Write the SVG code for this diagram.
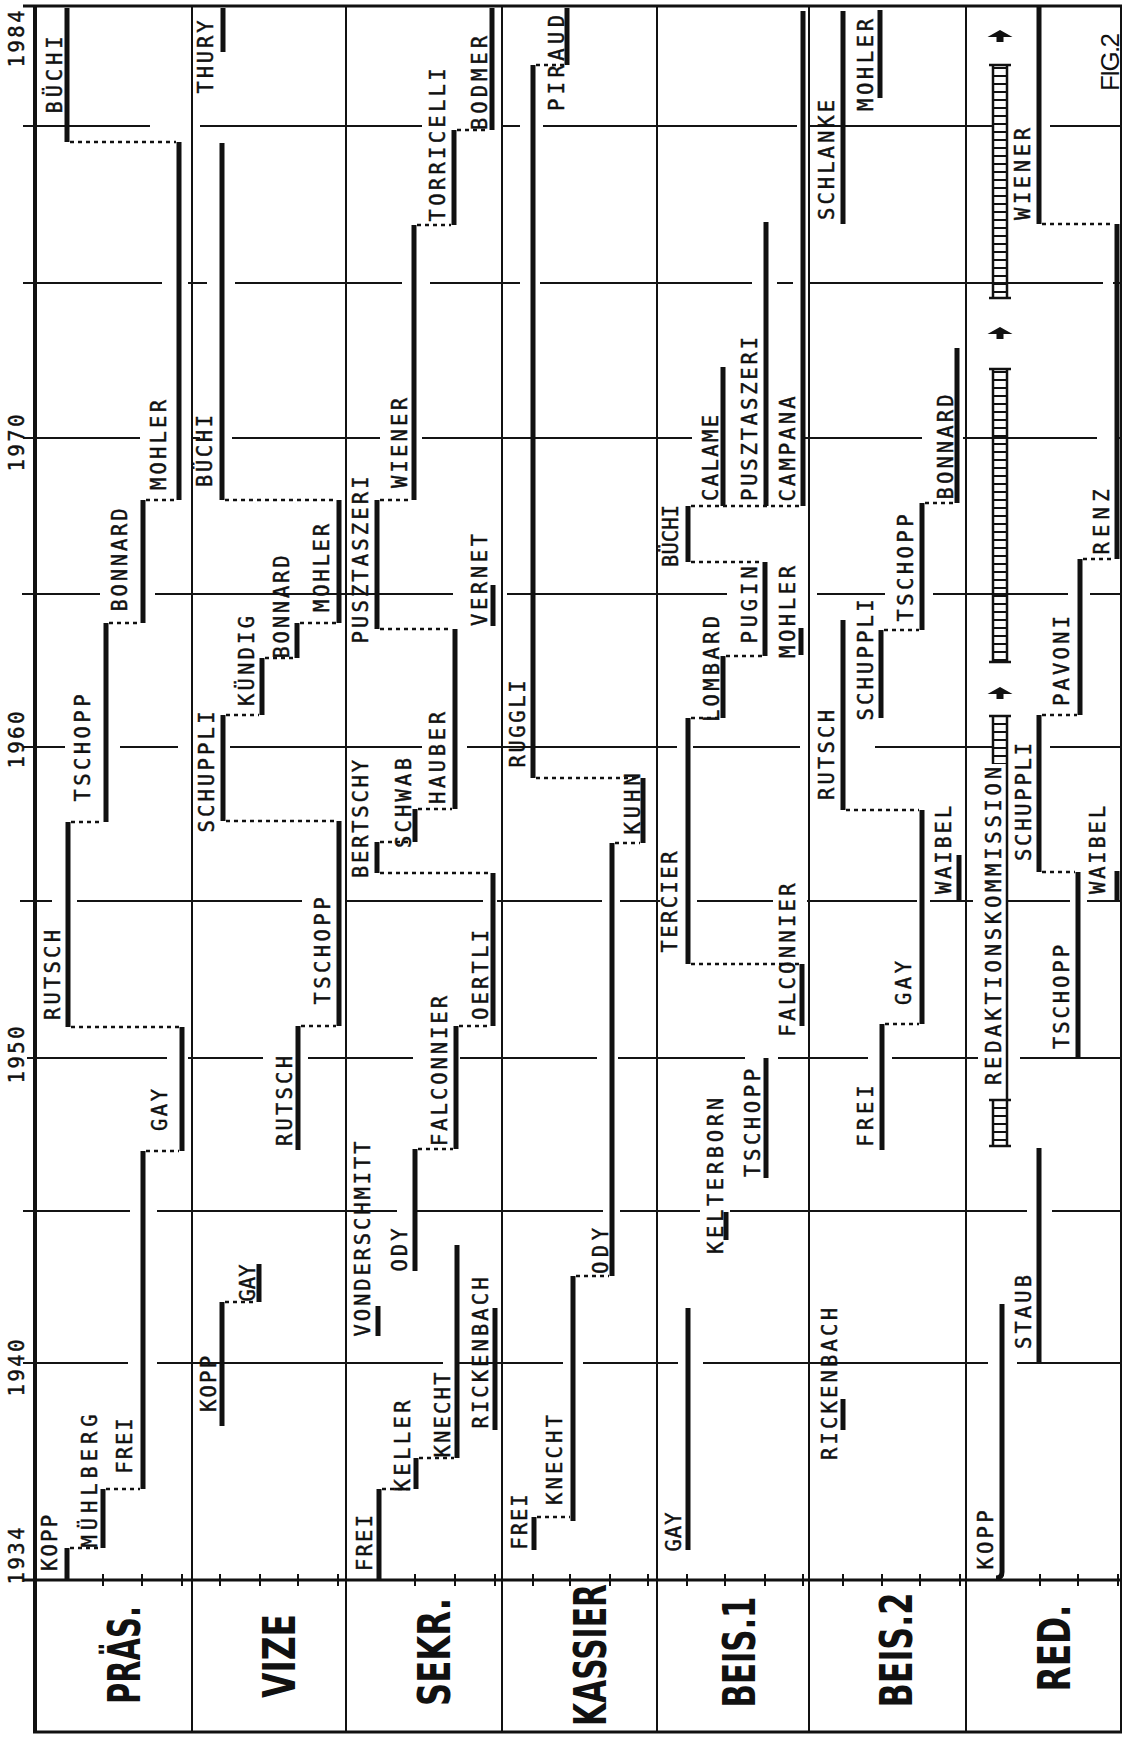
<svg xmlns="http://www.w3.org/2000/svg" width="1124" height="1740" viewBox="0 0 1124 1740">
<defs>
<style>
.g{stroke:#141414;stroke-width:2;fill:none}
.fr{stroke:#111;fill:none}
.b{stroke:#111;stroke-width:5;fill:none}
.d{stroke:#111;stroke-width:2.5;stroke-dasharray:4 4;fill:none}
.n{font-family:"DejaVu Sans Mono","Liberation Mono",monospace;font-size:20.5px;fill:#111;stroke:#111;stroke-width:0.45;text-anchor:middle}
.h{font-family:"DejaVu Sans Condensed","DejaVu Sans","Liberation Sans",sans-serif;font-weight:bold;font-size:44px;fill:#111;text-anchor:middle}
.f{font-family:"Liberation Sans",sans-serif;font-size:26px;fill:#111;text-anchor:middle}
.lad{stroke:#111;stroke-width:2.5;fill:none}
</style>
<pattern id="rungs" patternUnits="userSpaceOnUse" x="0" y="0" width="20" height="8"><rect x="0" y="3" width="20" height="2" fill="#111"/></pattern>
<path id="arr" d="M0 -6L12.5 1H3.5V6H-3.5V1H-12.5Z" fill="#111"/>
</defs>
<rect width="1124" height="1740" fill="#fff"/>

<g id="frame">
<path class="fr" stroke-width="4" d="M35 5V1732"/>
<path class="fr" stroke-width="3" d="M23 6H1122M23 1580H1122M33 1732H1122"/>
<path class="fr" stroke-width="2" d="M192 5V1732M346 5V1732M502 5V1732M657 5V1732M809 5V1732M966 5V1732M1121 5V1732"/>
<path class="g" d="M23 126H150M200 126H422M503 126H520M543 126H797M810 126H993M1050 126H1122
M23 283H162M188 283H207M235 283H402M430 283H520M540 283H752M777 283H793M810 283H1103M1113 283H1122
M23 438H140M192 438H200M232 438H380M422 438H692M803 438H922M963 438H1097M1115 438H1122
M22 594H100M155 594H453M507 594H727M817 594H885M933 594H1068M1090 594H1122
M23 747H65M120 747H178M230 747H422M467 747H677M693 747H800M875 747H993M1050 747H1122
M20 901H52M77 901H302M347 901H483M497 901H602M620 901H660M697 901H773M807 901H917M930 901H973M1007 901H1070M1087 901H1122
M27 1058H167M188 1058H263M308 1058H413M460 1058H597M618 1058H745M778 1058H868M892 1058H978M1020 1058H1122
M23 1211H130M157 1211H397M417 1211H603M620 1211H700M730 1211H1027M1052 1211H1122
M23 1363H128M157 1363H443M457 1363H563M583 1363H678M703 1363H988M1017 1363H1122"/>
<path class="fr" stroke-width="2" d="M103 1574V1586M142 1574V1586M182 1574V1586M220 1574V1586M260 1574V1586M298 1574V1586M338 1574V1586M415 1574V1586M455 1574V1586M495 1574V1586M533 1574V1586M570 1574V1586M610 1574V1586M648 1574V1586M687 1574V1586M725 1574V1586M765 1574V1586M803 1574V1586M843 1574V1586M882 1574V1586M920 1574V1586M960 1574V1586M1040 1574V1586M1078 1574V1586M1118 1574V1586"/>
</g>

<g id="years">
<text class="n" transform="translate(24 39) rotate(-90)" textLength="57">1984</text>
<text class="n" transform="translate(24 443) rotate(-90)" textLength="57">1970</text>
<text class="n" transform="translate(24 740) rotate(-90)" textLength="57">1960</text>
<text class="n" transform="translate(24 1055) rotate(-90)" textLength="57">1950</text>
<text class="n" transform="translate(24 1368) rotate(-90)" textLength="57">1940</text>
<text class="n" transform="translate(24 1556) rotate(-90)" textLength="57">1934</text>
</g>

<g id="headers">
<text class="h" transform="translate(140 1655) rotate(-90)" textLength="98" lengthAdjust="spacingAndGlyphs">PRÄS.</text>
<text class="h" transform="translate(295 1656) rotate(-90)" textLength="84" lengthAdjust="spacingAndGlyphs">VIZE</text>
<text class="h" transform="translate(450 1652) rotate(-90)" textLength="108" lengthAdjust="spacingAndGlyphs">SEKR.</text>
<text class="h" transform="translate(606 1655) rotate(-90)" textLength="142" lengthAdjust="spacingAndGlyphs">KASSIER</text>
<text class="h" transform="translate(755 1652) rotate(-90)" textLength="111" lengthAdjust="spacingAndGlyphs">BEIS.1</text>
<text class="h" transform="translate(912 1650) rotate(-90)" textLength="115" lengthAdjust="spacingAndGlyphs">BEIS.2</text>
<text class="h" transform="translate(1070 1648) rotate(-90)" textLength="87" lengthAdjust="spacingAndGlyphs">RED.</text>
</g>

<g id="connectors">
<path class="d" d="M70 1548H100"/>
<path class="d" d="M106 1489H140"/>
<path class="d" d="M146 1151H179"/>
<path class="d" d="M71 1027H179"/>
<path class="d" d="M71 822H103"/>
<path class="d" d="M109 623H140"/>
<path class="d" d="M146 500H176"/>
<path class="d" d="M70 142H176"/>
<path class="d" d="M225 1302H255"/>
<path class="d" d="M301 1026H336"/>
<path class="d" d="M226 821H336"/>
<path class="d" d="M226 715H259"/>
<path class="d" d="M265 658H294"/>
<path class="d" d="M300 623H336"/>
<path class="d" d="M225 500H336"/>
<path class="d" d="M382 1489H413"/>
<path class="d" d="M419 1458H454"/>
<path class="d" d="M418 1149H453"/>
<path class="d" d="M459 1026H490"/>
<path class="d" d="M380 873H490"/>
<path class="d" d="M380 842H412"/>
<path class="d" d="M418 809H452"/>
<path class="d" d="M380 629H452"/>
<path class="d" d="M380 500H411"/>
<path class="d" d="M417 225H451"/>
<path class="d" d="M457 130H489"/>
<path class="d" d="M537 1517H570"/>
<path class="d" d="M576 1276H609"/>
<path class="d" d="M615 843H640"/>
<path class="d" d="M536 778H640"/>
<path class="d" d="M536 65H564"/>
<path class="d" d="M691 964H799"/>
<path class="d" d="M691 718H720"/>
<path class="d" d="M726 656H762"/>
<path class="d" d="M691 562H762"/>
<path class="d" d="M691 506H800"/>
<path class="d" d="M885 1024H919"/>
<path class="d" d="M846 810H919"/>
<path class="d" d="M884 630H919"/>
<path class="d" d="M925 503H954"/>
<path class="d" d="M1042 872H1075"/>
<path class="d" d="M1042 715H1077"/>
<path class="d" d="M1083 559H1114"/>
<path class="d" d="M1042 224H1114"/>
</g>

<g id="p-kopp"><path class="b" d="M67 1548V1580"/><text class="n" transform="translate(57 1543) rotate(-90)" textLength="56">KOPP</text></g>
<g id="p-muehlberg"><path class="b" d="M103 1489V1548"/><text class="n" transform="translate(97 1481) rotate(-90)" textLength="133">MÜHLBERG</text></g>
<g id="p-frei"><path class="b" d="M143 1151V1489"/><text class="n" transform="translate(132 1446) rotate(-90)" textLength="55">FREI</text></g>
<g id="p-gay"><path class="b" d="M182 1027V1151"/><text class="n" transform="translate(167 1110) rotate(-90)" textLength="42">GAY</text></g>
<g id="p-rutsch"><path class="b" d="M68 822V1027"/><text class="n" transform="translate(60 975) rotate(-90)" textLength="90">RUTSCH</text></g>
<g id="p-tschopp"><path class="b" d="M106 623V822"/><text class="n" transform="translate(90 748) rotate(-90)" textLength="107">TSCHOPP</text></g>
<g id="p-bonnard"><path class="b" d="M143 500V623"/><text class="n" transform="translate(127 560) rotate(-90)" textLength="103">BONNARD</text></g>
<g id="p-mohler"><path class="b" d="M179 142V500"/><text class="n" transform="translate(166 445) rotate(-90)" textLength="90">MOHLER</text></g>
<g id="p-buechi"><path class="b" d="M67 8V142"/><text class="n" transform="translate(62 75) rotate(-90)" textLength="77">BÜCHI</text></g>

<g id="v-kopp"><path class="b" d="M222 1302V1426"/><text class="n" transform="translate(216 1384) rotate(-90)" textLength="56">KOPP</text></g>
<g id="v-gay"><path class="b" d="M259 1264V1302"/><text class="n" transform="translate(255 1283) rotate(-90)" textLength="37">GAY</text></g>
<g id="v-rutsch"><path class="b" d="M298 1026V1150"/><text class="n" transform="translate(292 1101) rotate(-90)" textLength="90">RUTSCH</text></g>
<g id="v-tschopp"><path class="b" d="M339 821V1026"/><text class="n" transform="translate(330 951) rotate(-90)" textLength="107">TSCHOPP</text></g>
<g id="v-schuppli"><path class="b" d="M223 715V821"/><text class="n" transform="translate(214 772) rotate(-90)" textLength="121">SCHUPPLI</text></g>
<g id="v-kuendig"><path class="b" d="M262 658V715"/><text class="n" transform="translate(254 661) rotate(-90)" textLength="90">KÜNDIG</text></g>
<g id="v-bonnard"><path class="b" d="M297 623V658"/><text class="n" transform="translate(289 607) rotate(-90)" textLength="103">BONNARD</text></g>
<g id="v-mohler"><path class="b" d="M339 500V623"/><text class="n" transform="translate(329 568) rotate(-90)" textLength="88">MOHLER</text></g>
<g id="v-buechi"><path class="b" d="M222 143V500"/><text class="n" transform="translate(212 451) rotate(-90)" textLength="72">BÜCHI</text></g>
<g id="v-thury"><path class="b" d="M223 8V52"/><text class="n" transform="translate(213 57) rotate(-90)" textLength="73">THURY</text></g>

<g id="s-frei"><path class="b" d="M379 1489V1580"/><text class="n" transform="translate(372 1543) rotate(-90)" textLength="56">FREI</text></g>
<g id="s-keller"><path class="b" d="M416 1458V1489"/><text class="n" transform="translate(410 1446) rotate(-90)" textLength="91">KELLER</text></g>
<g id="s-knecht"><path class="b" d="M457 1245V1458"/><text class="n" transform="translate(450 1415) rotate(-90)" textLength="85">KNECHT</text></g>
<g id="s-rickenbach"><path class="b" d="M495 1308V1430"/><text class="n" transform="translate(488 1353) rotate(-90)" textLength="151">RICKENBACH</text></g>
<g id="s-vonderschmitt"><path class="b" d="M378 1306V1336"/><text class="n" transform="translate(370 1239) rotate(-90)" textLength="195">VONDERSCHMITT</text></g>
<g id="s-ody"><path class="b" d="M415 1149V1271"/><text class="n" transform="translate(407 1250) rotate(-90)" textLength="43">ODY</text></g>
<g id="s-falconnier"><path class="b" d="M456 1026V1149"/><text class="n" transform="translate(447 1071) rotate(-90)" textLength="150">FALCONNIER</text></g>
<g id="s-oertli"><path class="b" d="M493 873V1026"/><text class="n" transform="translate(488 975) rotate(-90)" textLength="90">OERTLI</text></g>
<g id="s-bertschy"><path class="b" d="M377 842V873"/><text class="n" transform="translate(368 819) rotate(-90)" textLength="118">BERTSCHY</text></g>
<g id="s-schwab"><path class="b" d="M415 809V842"/><text class="n" transform="translate(411 803) rotate(-90)" textLength="90">SCHWAB</text></g>
<g id="s-hauber"><path class="b" d="M455 629V809"/><text class="n" transform="translate(445 758) rotate(-90)" textLength="92">HAUBER</text></g>
<g id="s-pusztaszeri"><path class="b" d="M377 500V629"/><text class="n" transform="translate(368 560) rotate(-90)" textLength="167">PUSZTASZERI</text></g>
<g id="s-wiener"><path class="b" d="M414 225V500"/><text class="n" transform="translate(407 443) rotate(-90)" textLength="90">WIENER</text></g>
<g id="s-torricelli"><path class="b" d="M454 130V225"/><text class="n" transform="translate(445 145) rotate(-90)" textLength="153">TORRICELLI</text></g>
<g id="s-bodmer"><path class="b" d="M492 8V130"/><text class="n" transform="translate(487 83) rotate(-90)" textLength="94">BODMER</text></g>
<g id="s-vernet"><path class="b" d="M493 585V626"/><text class="n" transform="translate(487 580) rotate(-90)" textLength="92">VERNET</text></g>

<g id="k-frei"><path class="b" d="M534 1517V1550"/><text class="n" transform="translate(527 1522) rotate(-90)" textLength="55">FREI</text></g>
<g id="k-knecht"><path class="b" d="M573 1276V1521"/><text class="n" transform="translate(562 1460) rotate(-90)" textLength="90">KNECHT</text></g>
<g id="k-ody"><path class="b" d="M612 843V1276"/><text class="n" transform="translate(608 1251) rotate(-90)" textLength="46">ODY</text></g>
<g id="k-kuhn"><path class="b" d="M643 778V843"/><text class="n" transform="translate(640 804) rotate(-90)" textLength="61">KUHN</text></g>
<g id="k-ruggli"><path class="b" d="M533 65V778"/><text class="n" transform="translate(525 724) rotate(-90)" textLength="87">RUGGLI</text></g>
<g id="k-piraud"><path class="b" d="M567 8V65"/><text class="n" transform="translate(564 63) rotate(-90)" textLength="96">PIRAUD</text></g>

<g id="b1-gay"><path class="b" d="M688 1308V1550"/><text class="n" transform="translate(681 1532) rotate(-90)" textLength="39">GAY</text></g>
<g id="b1-kelterborn"><path class="b" d="M726 1212V1240"/><text class="n" transform="translate(723 1176) rotate(-90)" textLength="156">KELTERBORN</text></g>
<g id="b1-tschopp"><path class="b" d="M766 1058V1178"/><text class="n" transform="translate(760 1123) rotate(-90)" textLength="108">TSCHOPP</text></g>
<g id="b1-falconnier"><path class="b" d="M802 964V1026"/><text class="n" transform="translate(795 960) rotate(-90)" textLength="153">FALCONNIER</text></g>
<g id="b1-tercier"><path class="b" d="M688 718V964"/><text class="n" transform="translate(677 902) rotate(-90)" textLength="101">TERCIER</text></g>
<g id="b1-lombard"><path class="b" d="M723 656V718"/><text class="n" transform="translate(719 669) rotate(-90)" textLength="106">LOMBARD</text></g>
<g id="b1-pugin"><path class="b" d="M765 562V656"/><text class="n" transform="translate(757 605) rotate(-90)" textLength="77">PUGIN</text></g>
<g id="b1-mohler"><path class="b" d="M801 628V655"/><text class="n" transform="translate(795 612) rotate(-90)" textLength="92">MOHLER</text></g>
<g id="b1-buechi"><path class="b" d="M688 506V562"/><text class="n" transform="translate(678 536) rotate(-90)" textLength="62">BÜCHI</text></g>
<g id="b1-calame"><path class="b" d="M723 367V506"/><text class="n" transform="translate(718 458) rotate(-90)" textLength="86">CALAME</text></g>
<g id="b1-pusztaszeri"><path class="b" d="M766 222V506"/><text class="n" transform="translate(757 419) rotate(-90)" textLength="164">PUSZTASZERI</text></g>
<g id="b1-campana"><path class="b" d="M803 11V506"/><text class="n" transform="translate(795 449) rotate(-90)" textLength="105">CAMPANA</text></g>

<g id="b2-rickenbach"><path class="b" d="M843 1399V1430"/><text class="n" transform="translate(837 1384) rotate(-90)" textLength="152">RICKENBACH</text></g>
<g id="b2-frei"><path class="b" d="M882 1024V1150"/><text class="n" transform="translate(873 1116) rotate(-90)" textLength="61">FREI</text></g>
<g id="b2-gay"><path class="b" d="M922 810V1024"/><text class="n" transform="translate(911 983) rotate(-90)" textLength="44">GAY</text></g>
<g id="b2-waibel"><path class="b" d="M959 855V901"/><text class="n" transform="translate(951 850) rotate(-90)" textLength="88">WAIBEL</text></g>
<g id="b2-rutsch"><path class="b" d="M843 620V810"/><text class="n" transform="translate(834 755) rotate(-90)" textLength="90">RUTSCH</text></g>
<g id="b2-schuppli"><path class="b" d="M881 630V718"/><text class="n" transform="translate(873 660) rotate(-90)" textLength="121">SCHUPPLI</text></g>
<g id="b2-tschopp"><path class="b" d="M922 503V630"/><text class="n" transform="translate(913 568) rotate(-90)" textLength="107">TSCHOPP</text></g>
<g id="b2-bonnard"><path class="b" d="M957 348V503"/><text class="n" transform="translate(953 447) rotate(-90)" textLength="105">BONNARD</text></g>
<g id="b2-schlanke"><path class="b" d="M843 11V224"/><text class="n" transform="translate(834 160) rotate(-90)" textLength="120">SCHLANKE</text></g>
<g id="b2-mohler"><path class="b" d="M880 10V98"/><text class="n" transform="translate(873 65) rotate(-90)" textLength="92">MOHLER</text></g>

<g id="r-kopp"><path class="b" d="M1002 1304V1572Q1002 1578 996 1578"/><text class="n" transform="translate(993 1540) rotate(-90)" textLength="59">KOPP</text></g>
<g id="r-staub"><path class="b" d="M1039 1148V1362"/><text class="n" transform="translate(1031 1312) rotate(-90)" textLength="74">STAUB</text></g>
<g id="r-tschopp"><path class="b" d="M1078 872V1058"/><text class="n" transform="translate(1069 997) rotate(-90)" textLength="104">TSCHOPP</text></g>
<g id="r-schuppli"><path class="b" d="M1039 715V872"/><text class="n" transform="translate(1031 802) rotate(-90)" textLength="118">SCHUPPLI</text></g>
<g id="r-waibel"><path class="b" d="M1117 871V901"/><text class="n" transform="translate(1105 850) rotate(-90)" textLength="88">WAIBEL</text></g>
<g id="r-pavoni"><path class="b" d="M1080 559V715"/><text class="n" transform="translate(1069 661) rotate(-90)" textLength="90">PAVONI</text></g>
<g id="r-renz"><path class="b" d="M1117 224V559"/><text class="n" transform="translate(1109 522) rotate(-90)" textLength="65">RENZ</text></g>
<g id="r-wiener"><path class="b" d="M1039 6V224"/><text class="n" transform="translate(1030 174) rotate(-90)" textLength="92">WIENER</text></g>

<g id="r-redaktionskommission">
<rect x="993" y="65" width="14" height="233" fill="url(#rungs)"/>
<rect x="993" y="369" width="14" height="293" fill="url(#rungs)"/>
<rect x="993" y="716" width="14" height="48" fill="url(#rungs)"/>
<rect x="993" y="1100" width="14" height="46" fill="url(#rungs)"/>
<path class="lad" d="M993 65V298M1007 65V298M993 369V662M1007 369V662M993 716V764M1007 716V1146M993 1100V1146"/>
<path class="lad" stroke-width="3" d="M989 65H1011M989 298H1011M989 369H1011M989 662H1011M989 716H1011M989 1100H1011M989 1146H1011"/>
<use href="#arr" x="1000" y="36"/>
<use href="#arr" x="1000" y="333"/>
<use href="#arr" x="1000" y="693"/>
<rect x="985" y="767" width="20" height="318" fill="#fff"/>
<text class="n" transform="translate(1001 926) rotate(-90)" textLength="318">REDAKTIONSKOMMISSION</text>
</g>

<g id="fig"><text class="f" transform="translate(1119 62) rotate(-90)" textLength="58">FIG.2</text></g>
</svg>
